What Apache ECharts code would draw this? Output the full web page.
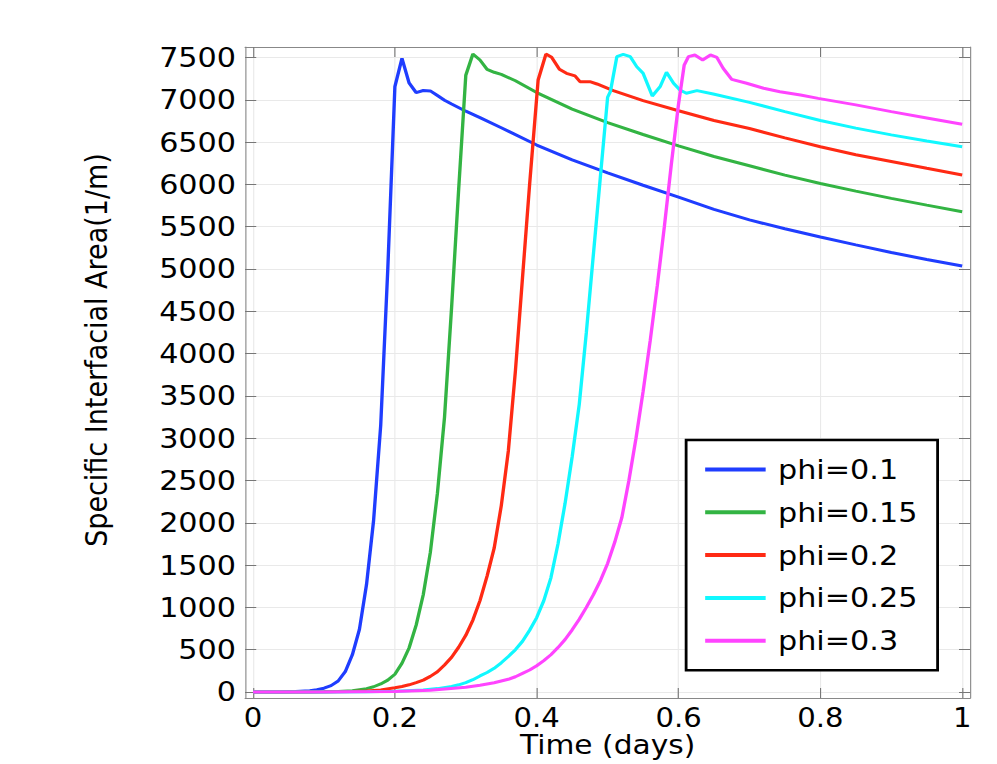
<!DOCTYPE html>
<html>
<head>
<meta charset="utf-8">
<script src="https://cdn.jsdelivr.net/npm/echarts@6/dist/echarts.min.js"></script>
<style>
html,body{margin:0;padding:0;background:#fff;overflow:hidden;width:997px;height:764px;}
#chart{position:absolute;left:0;top:0;width:890px;height:764px;transform:scaleX(1.1202);transform-origin:0 0;}
</style>
</head>
<body>
<div id="chart"></div>
<script>
// ---- data (time in days, specific interfacial area in 1/m) ----
const seriesNames = ['phi=0.1', 'phi=0.15', 'phi=0.2', 'phi=0.25', 'phi=0.3'];
const xTickValues = [0, 0.2, 0.4, 0.6, 0.8, 1];
const yTickValues = [0, 500, 1000, 1500, 2000, 2500, 3000, 3500, 4000, 4500, 5000, 5500, 6000, 6500, 7000, 7500];

const phi01_t = [0, 0.02, 0.04, 0.06, 0.08, 0.09, 0.10, 0.11, 0.12, 0.13, 0.14, 0.15, 0.16, 0.17, 0.18, 0.19, 0.20, 0.21, 0.22, 0.23, 0.24, 0.25, 0.26, 0.27, 0.28, 0.30, 0.32, 0.35, 0.40, 0.45, 0.50, 0.55, 0.60, 0.65, 0.70, 0.75, 0.80, 0.85, 0.90, 0.95, 1.00];
const phi01_v = [0, 0, 1, 5, 15, 26, 45, 75, 130, 240, 440, 740, 1270, 2030, 3150, 5000, 7155, 7490, 7200, 7085, 7110, 7105, 7050, 6995, 6950, 6865, 6790, 6670, 6465, 6290, 6135, 5990, 5850, 5705, 5580, 5475, 5378, 5285, 5195, 5113, 5035];

const phi015_t = [0, 0.04, 0.08, 0.10, 0.12, 0.14, 0.16, 0.17, 0.18, 0.19, 0.20, 0.21, 0.22, 0.23, 0.24, 0.25, 0.26, 0.27, 0.28, 0.29, 0.30, 0.31, 0.32, 0.33, 0.34, 0.35, 0.37, 0.40, 0.45, 0.50, 0.55, 0.60, 0.65, 0.70, 0.75, 0.80, 0.85, 0.90, 0.95, 1.00];
const phi015_v = [0, 0, 1, 2, 5, 15, 40, 62, 95, 140, 210, 340, 520, 790, 1150, 1650, 2350, 3250, 4550, 5950, 7290, 7541, 7470, 7360, 7325, 7300, 7225, 7085, 6890, 6730, 6590, 6455, 6330, 6220, 6110, 6010, 5920, 5835, 5755, 5677];

const phi02_t = [0, 0.06, 0.10, 0.14, 0.16, 0.18, 0.20, 0.21, 0.22, 0.23, 0.24, 0.25, 0.26, 0.27, 0.28, 0.29, 0.30, 0.31, 0.32, 0.33, 0.34, 0.35, 0.36, 0.37, 0.38, 0.39, 0.402, 0.413, 0.421, 0.432, 0.442, 0.454, 0.461, 0.475, 0.485, 0.508, 0.55, 0.60, 0.65, 0.70, 0.75, 0.80, 0.85, 0.90, 0.95, 1.00];
const phi02_v = [0, 0, 2, 6, 12, 25, 50, 65, 85, 110, 140, 185, 240, 320, 410, 530, 670, 850, 1080, 1370, 1700, 2200, 2850, 3800, 4900, 6000, 7234, 7541, 7502, 7360, 7313, 7282, 7214, 7214, 7187, 7108, 6990, 6870, 6755, 6660, 6550, 6445, 6350, 6270, 6190, 6111];

const phi025_t = [0, 0.10, 0.16, 0.20, 0.24, 0.26, 0.28, 0.29, 0.30, 0.31, 0.32, 0.33, 0.34, 0.35, 0.36, 0.37, 0.38, 0.39, 0.40, 0.41, 0.42, 0.43, 0.44, 0.45, 0.46, 0.47, 0.48, 0.49, 0.50, 0.504, 0.513, 0.522, 0.532, 0.541, 0.550, 0.563, 0.574, 0.583, 0.593, 0.602, 0.611, 0.626, 0.649, 0.70, 0.75, 0.80, 0.85, 0.90, 0.95, 1.00];
const phi025_v = [0, 1, 4, 10, 25, 40, 65, 85, 110, 145, 190, 230, 280, 345, 420, 500, 600, 730, 880, 1080, 1350, 1750, 2230, 2780, 3400, 4250, 5180, 6110, 7030, 7100, 7510, 7537, 7510, 7392, 7313, 7045, 7155, 7325, 7195, 7116, 7077, 7108, 7068, 6970, 6860, 6755, 6665, 6585, 6512, 6445];

const phi03_t = [0, 0.10, 0.20, 0.25, 0.30, 0.32, 0.34, 0.36, 0.37, 0.38, 0.39, 0.40, 0.41, 0.42, 0.43, 0.44, 0.45, 0.46, 0.47, 0.48, 0.49, 0.50, 0.51, 0.52, 0.53, 0.54, 0.55, 0.56, 0.57, 0.58, 0.59, 0.60, 0.608, 0.614, 0.623, 0.634, 0.645, 0.654, 0.663, 0.675, 0.696, 0.720, 0.743, 0.772, 0.797, 0.85, 0.90, 0.95, 1.00];
const phi03_v = [0, 1, 5, 20, 55, 80, 110, 150, 180, 220, 260, 310, 370, 440, 525, 620, 735, 860, 1000, 1150, 1320, 1520, 1770, 2060, 2500, 3000, 3550, 4150, 4800, 5500, 6250, 6950, 7411, 7510, 7530, 7470, 7530, 7502, 7372, 7242, 7195, 7136, 7096, 7057, 7017, 6940, 6860, 6785, 6710];

const seriesT = [phi01_t, phi015_t, phi02_t, phi025_t, phi03_t];
const seriesV = [phi01_v, phi015_v, phi02_v, phi025_v, phi03_v];
const colors = ['#1f3dff', '#33b443', '#ff2a14', '#11f8ff', '#ff44ff'];

const FONT = 'DejaVu Sans';
const chart = echarts.init(document.getElementById('chart'), null, {renderer: 'svg'});

const frameLine = {show: true, onZero: false, lineStyle: {color: '#888', width: 1}};
const tickStyle = {color: '#777', width: 1};
const plain = v => String(v);

const option = {
  animation: false,
  backgroundColor: '#fff',
  color: colors,
  grid: {left: 218.75, right: 23.9, top: 47, bottom: 66, containLabel: false, outerBoundsMode: 'none'},
  legend: {
    orient: 'vertical',
    left: 612.5,
    top: 440,
    padding: [16, 18, 16, 17],
    backgroundColor: '#fff',
    borderColor: '#000',
    borderWidth: 2.5,
    itemWidth: 54,
    itemHeight: 4,
    itemGap: 15.8,
    icon: 'rect',
    data: seriesNames,
    textStyle: {fontFamily: FONT, fontSize: 27, color: '#000', lineHeight: 27, padding: [0, 0, 0, 6]}
  },
  xAxis: [{
    type: 'value', position: 'bottom', min: -0.0113, max: 1.0113,
    axisLine: frameLine,
    axisTick: {show: true, inside: true, length: 10, customValues: xTickValues, lineStyle: tickStyle},
    axisLabel: {customValues: xTickValues, formatter: plain, fontFamily: FONT, fontSize: 26, lineHeight: 20, color: '#000', margin: 10},
    splitLine: {show: true, lineStyle: {color: '#e9e9e9', width: 1}},
    name: 'Time (days)', nameLocation: 'middle', nameGap: 37, nameMoveOverlap: false,
    nameTextStyle: {fontFamily: FONT, fontSize: 26.5, lineHeight: 20, color: '#000'}
  }, {
    type: 'value', position: 'top', min: -0.0113, max: 1.0113,
    axisLine: frameLine,
    axisTick: {show: true, inside: true, length: 10, customValues: xTickValues, lineStyle: tickStyle},
    axisLabel: {show: false},
    splitLine: {show: false}
  }],
  yAxis: [{
    type: 'value', position: 'left', min: -71, max: 7624,
    axisLine: frameLine,
    axisTick: {show: true, inside: true, length: 10, customValues: yTickValues, lineStyle: tickStyle},
    axisLabel: {customValues: yTickValues, formatter: plain, fontFamily: FONT, fontSize: 27, color: '#000', margin: 8},
    splitLine: {show: true, lineStyle: {color: '#e9e9e9', width: 1}},
    name: 'Specific Interfacial Area(1/m)', nameLocation: 'middle', nameGap: 119, nameMoveOverlap: false,
    nameTextStyle: {fontFamily: FONT, fontSize: 27, color: '#000', padding: [0, 0, 0, 45]}
  }, {
    type: 'value', position: 'right', min: -71, max: 7624,
    axisLine: frameLine,
    axisTick: {show: true, inside: true, length: 10, customValues: yTickValues, lineStyle: tickStyle},
    axisLabel: {show: false},
    splitLine: {show: false}
  }],
  series: seriesNames.map((name, i) => ({
    name: name,
    type: 'line',
    xAxisIndex: 0,
    yAxisIndex: 0,
    showSymbol: false,
    symbol: 'none',
    lineStyle: {width: 3, color: colors[i]},
    itemStyle: {color: colors[i]},
    data: seriesT[i].map((t, k) => [t, seriesV[i][k]])
  }))
};
chart.setOption(option);
</script>
</body>
</html>
